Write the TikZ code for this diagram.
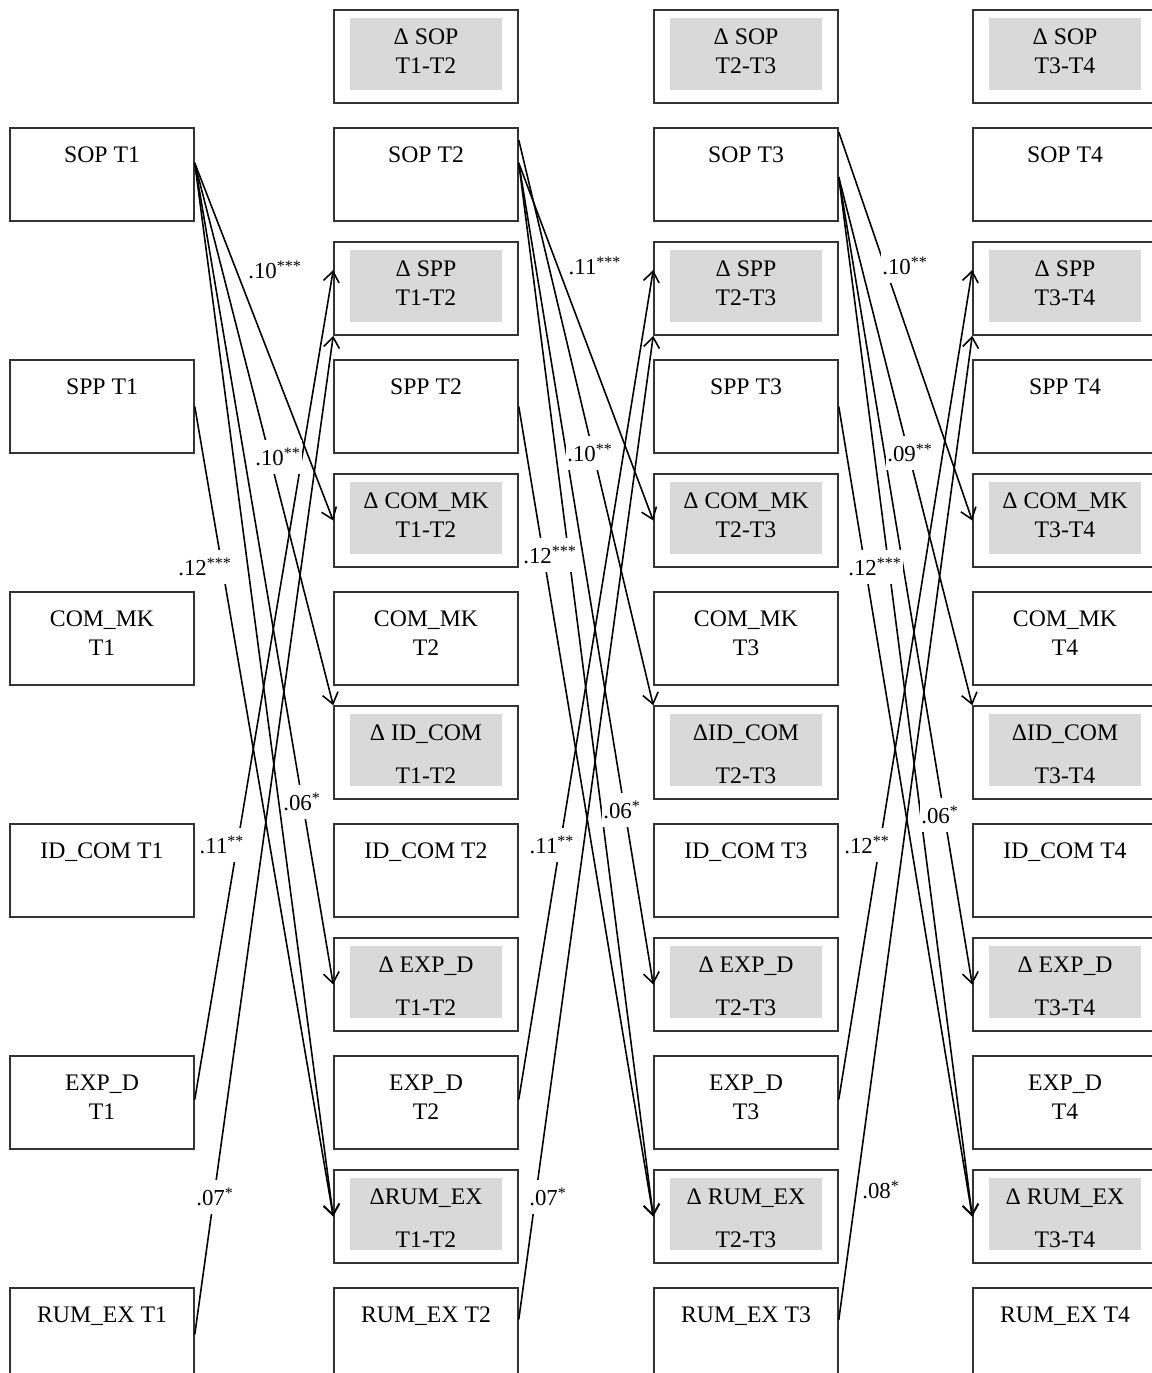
\documentclass[tikz,border=0pt]{standalone}
\usepackage{fontspec}
\setmainfont{Liberation Serif}
\usetikzlibrary{arrows.meta}

\begin{document}
\begin{tikzpicture}[x=0.02cm, y=-0.02cm,
	>={Straight Barb[length=6pt,width=9pt]},
	font=\fontsize{13.5}{16.4}\selectfont,
	box/.style={draw=black!80, line width=0.9pt, fill=white, minimum width=3.68cm, minimum height=1.86cm, inner sep=0pt, align=center, text height=0.68cm, text depth=1.18cm},
	two/.style={text height=1.26cm, text depth=0.6cm},
	wide/.style={text height=1.54cm, text depth=0.32cm},
	dbox/.style={box, path picture={\fill[black!15] ([xshift=0.32cm,yshift=0.26cm]path picture bounding box.south west) rectangle ([xshift=-0.32cm,yshift=-0.16cm]path picture bounding box.north east);}},
	lnk/.style={->, line width=0.9pt},
	coef/.style={fill=white, inner xsep=1pt, inner ysep=4.5pt, font=\fontsize{13}{15}\selectfont}]

\useasboundingbox (0,0) rectangle (1152,1373);

\foreach \c/\x in {1/102, 2/426, 3/746, 4/1065}{
	\node[box] (sop\c) at (\x,174.5) {SOP T\c};
	\node[box] (spp\c) at (\x,406.5) {SPP T\c};
	\node[box, two] (com\c) at (\x,638.5) {COM\_MK\\T\c};
	\node[box] (id\c) at (\x,870.5) {ID\_COM T\c};
	\node[box, two] (exp\c) at (\x,1102.5) {EXP\_D\\T\c};
	\node[box] (rum\c) at (\x,1334.5) {RUM\_EX T\c};
}
\foreach[evaluate={\p=int(\c-1)}] \c/\x in {2/426, 3/746, 4/1065}{
	\node[dbox, two] (dsop\c) at (\x,56.5) {Δ SOP\\T\p-T\c};
	\node[dbox, two] (dspp\c) at (\x,288.5) {Δ SPP\\T\p-T\c};
	\node[dbox, two] (dcom\c) at (\x,520.5) {Δ COM\_MK\\T\p-T\c};
	\node[dbox, wide] (dexp\c) at (\x,984.5) {Δ EXP\_D\\[0.27cm]T\p-T\c};
}
\node[dbox, wide] (did2) at (426,752.5) {Δ ID\_COM\\[0.27cm]T1-T2};
\node[dbox, wide] (did3) at (746,752.5) {ΔID\_COM\\[0.27cm]T2-T3};
\node[dbox, wide] (did4) at (1065,752.5) {ΔID\_COM\\[0.27cm]T3-T4};
\node[dbox, wide] (drum2) at (426,1216.5) {ΔRUM\_EX\\[0.27cm]T1-T2};
\node[dbox, wide] (drum3) at (746,1216.5) {Δ RUM\_EX\\[0.27cm]T2-T3};
\node[dbox, wide] (drum4) at (1065,1216.5) {Δ RUM\_EX\\[0.27cm]T3-T4};

\foreach \a in {dcom2.west, did2.north west, dexp2.west, drum2.west}
	\draw[lnk] ([yshift=0.23cm]sop1.east) -- (\a);
\draw[lnk] ([yshift=0.69cm]sop2.east) -- (did3.north west);
\foreach \a in {dcom3.west, dexp3.west, drum3.west}
	\draw[lnk] ([yshift=0.23cm]sop2.east) -- (\a);
\draw[lnk] ([yshift=0.85cm]sop3.east) -- (dcom4.west);
\foreach \a in {did4.north west, dexp4.west, drum4.west}
	\draw[lnk] ([yshift=-0.05cm]sop3.east) -- (\a);

\foreach[evaluate={\n=int(\c+1)}] \c/\dy in {1/0, 2/0.3, 3/0.29}{
	\draw[lnk] (spp\c.east) -- (drum\n.west);
	\draw[lnk] ([yshift=0.06cm]exp\c.east) -- ([yshift=0.37cm]dspp\n.west);
	\draw[lnk] ([yshift=\dy cm]rum\c.east) -- (dspp\n.south west);
}

\node[coef] (b1a) at (275,270) {.10\textsuperscript{***}};
\node[coef] (b1b) at (278,457) {.10\textsuperscript{**}};
\node[coef] (b1c) at (205,567) {.12\textsuperscript{***}};
\node[coef] (b1d) at (302,802) {.06\textsuperscript{*}};
\node[coef] (b1e) at (222,845) {.11\textsuperscript{**}};
\node[coef] (b1f) at (215,1197) {.07\textsuperscript{*}};

\node[coef] (b2a) at (595,266) {.11\textsuperscript{***}};
\node[coef] (b2b) at (590,453) {.10\textsuperscript{**}};
\node[coef] (b2c) at (550,555) {.12\textsuperscript{***}};
\node[coef] (b2d) at (622,810) {.06\textsuperscript{*}};
\node[coef] (b2e) at (552,845) {.11\textsuperscript{**}};
\node[coef] (b2f) at (548,1197) {.07\textsuperscript{*}};

\node[coef] (b3a) at (905,266) {.10\textsuperscript{**}};
\node[coef] (b3b) at (910,453) {.09\textsuperscript{**}};
\node[coef] (b3c) at (875,567) {.12\textsuperscript{***}};
\node[coef] (b3d) at (940,815) {.06\textsuperscript{*}};
\node[coef] (b3e) at (867,845) {.12\textsuperscript{**}};
\node[coef] (b3f) at (881,1190) {.08\textsuperscript{*}};

\end{tikzpicture}
\end{document}
